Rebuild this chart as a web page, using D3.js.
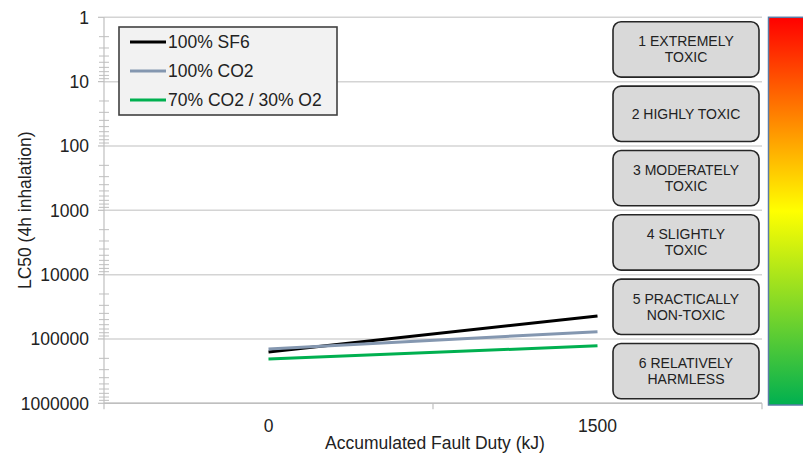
<!DOCTYPE html>
<html><head><meta charset="utf-8">
<script src="https://cdn.jsdelivr.net/npm/d3@7"></script>
<style>
html,body{margin:0;padding:0;background:#fff;overflow:hidden;}
text{font-family:"Liberation Sans",Arial,sans-serif;fill:#222;}
</style></head>
<body>
<svg id="chart" width="803" height="455"></svg>
<script>
// ---- data ----
const categories = ["0", "1500"];
const seriesNames = ["100% SF6", "100% CO2", "70% CO2 / 30% O2"];
const seriesColors = ["#000000", "#8497b0", "#00b050"];
const sf6Values = [159000, 44000];
const co2Values = [143000, 77000];
const co2o2Values = [205000, 128000];
const yTickValues = [1, 10, 100, 1000, 10000, 100000, 1000000];
const yTickLabels = ["1", "10", "100", "1000", "10000", "100000", "1000000"];
const toxicityLabels = [
  ["1 EXTREMELY", "TOXIC"],
  ["2 HIGHLY TOXIC"],
  ["3 MODERATELY", "TOXIC"],
  ["4 SLIGHTLY", "TOXIC"],
  ["5 PRACTICALLY", "NON-TOXIC"],
  ["6 RELATIVELY", "HARMLESS"]
];
const xTitle = "Accumulated Fault Duty (kJ)";
const yTitle = "LC50 (4h inhalation)";

const series = [sf6Values, co2Values, co2o2Values].map((v, i) => ({
  name: seriesNames[i], color: seriesColors[i],
  points: categories.map((c, j) => ({ c, v: v[j] }))
}));

const svg = d3.select("#chart");
const L = 104, R = 762, T = 17.3, B = 403.3;

const x = d3.scaleBand().domain(categories).range([L, R]).padding(0);
const y = d3.scaleLog().domain([1, 1e6]).range([T, B]);

// gridlines
svg.append("g").selectAll("line").data(yTickValues).join("line")
  .attr("x1", L).attr("x2", R).attr("y1", d => y(d)).attr("y2", d => y(d))
  .attr("stroke", "#d4d4d4").attr("stroke-width", 1.5);

// y axis line
svg.append("line").attr("x1", L).attr("x2", L).attr("y1", T).attr("y2", B)
  .attr("stroke", "#bfbfbf").attr("stroke-width", 1.2);

// minor ticks
const minor = [];
for (let e = 0; e < 6; e++) for (let k = 2; k <= 9; k++) minor.push(k * Math.pow(10, e));
svg.append("g").selectAll("line").data(minor).join("line")
  .attr("x1", L - 5).attr("x2", L + 5).attr("y1", d => y(d)).attr("y2", d => y(d))
  .attr("stroke", "#bfbfbf").attr("stroke-width", 1);
// major ticks
svg.append("g").selectAll("line").data(yTickValues).join("line")
  .attr("x1", L - 6).attr("x2", L).attr("y1", d => y(d)).attr("y2", d => y(d))
  .attr("stroke", "#bfbfbf").attr("stroke-width", 1.2);

// y tick labels
svg.append("g").selectAll("text").data(yTickValues).join("text")
  .attr("x", 89).attr("y", d => y(d)).attr("dy", "0.36em")
  .attr("text-anchor", "end").attr("font-size", 17.5)
  .text((d, i) => yTickLabels[i]);

// x axis
svg.append("line").attr("x1", L).attr("x2", R).attr("y1", B).attr("y2", B)
  .attr("stroke", "#bfbfbf").attr("stroke-width", 1.5);
const xTicks = [L, ...categories.slice(1).map(c => x(c)), R];
svg.append("g").selectAll("line").data(xTicks).join("line")
  .attr("x1", d => d).attr("x2", d => d).attr("y1", B).attr("y2", B + 6)
  .attr("stroke", "#bfbfbf").attr("stroke-width", 1.2);
svg.append("g").selectAll("text").data(categories).join("text")
  .attr("x", d => x(d) + x.bandwidth() / 2).attr("y", 432)
  .attr("text-anchor", "middle").attr("font-size", 17.5).text(d => d);

// axis titles
svg.append("text").attr("x", (L + R) / 2 + 2).attr("y", 449)
  .attr("text-anchor", "middle").attr("font-size", 17.5).text(xTitle);
svg.append("text").attr("transform", `translate(31,${(T + B) / 2}) rotate(-90)`)
  .attr("text-anchor", "middle").attr("font-size", 17.5).text(yTitle);

// lines
const line = d3.line().x(d => x(d.c) + x.bandwidth() / 2).y(d => y(d.v));
svg.append("g").selectAll("path").data(series).join("path")
  .attr("d", d => line(d.points)).attr("fill", "none")
  .attr("stroke", d => d.color).attr("stroke-width", 3);

// toxicity boxes
const boxes = svg.append("g").selectAll("g").data(toxicityLabels).join("g");
boxes.append("rect")
  .attr("x", 613).attr("width", 146)
  .attr("y", (d, i) => y(Math.pow(10, i)) + 4.5)
  .attr("height", (d, i) => y(Math.pow(10, i + 1)) - y(Math.pow(10, i)) - 9)
  .attr("rx", 8).attr("ry", 8)
  .attr("fill", "#d9d9d9").attr("stroke", "#262626").attr("stroke-width", 1.6);
boxes.each(function (d, i) {
  const cy = (y(Math.pow(10, i)) + y(Math.pow(10, i + 1))) / 2;
  const g = d3.select(this);
  d.forEach((t, j) => {
    const base = d.length === 1 ? cy + 5 : cy - 3 + j * 16;
    g.append("text").attr("x", 686).attr("y", base)
      .attr("text-anchor", "middle").attr("font-size", 14).text(t);
  });
});

// colour bar
const defs = svg.append("defs");
const grad = defs.append("linearGradient").attr("id", "tox").attr("x1", 0).attr("x2", 0).attr("y1", 0).attr("y2", 1);
[[0, "#ff0000"], [0.5, "#ffff00"], [1, "#00b050"]].forEach(s =>
  grad.append("stop").attr("offset", s[0]).attr("stop-color", s[1]));
svg.append("rect").attr("x", 768.5).attr("y", T).attr("width", 40).attr("height", 405 - T)
  .attr("fill", "url(#tox)").attr("stroke", "#5a7ca6").attr("stroke-width", 1.5);

// legend
const lg = svg.append("g");
lg.append("rect").attr("x", 119).attr("y", 27).attr("width", 218).attr("height", 88)
  .attr("fill", "#f2f2f2").attr("stroke", "#404040").attr("stroke-width", 1.6);
const li = lg.selectAll("g").data(series).join("g")
  .attr("transform", (d, i) => `translate(0,${42 + i * 29})`);
li.append("line").attr("x1", 130).attr("x2", 166).attr("y1", 0).attr("y2", 0)
  .attr("stroke", d => d.color).attr("stroke-width", 3);
li.append("text").attr("x", 168).attr("y", 0).attr("dy", "0.36em")
  .attr("font-size", 17.5).text(d => d.name);
</script>
</body></html>
